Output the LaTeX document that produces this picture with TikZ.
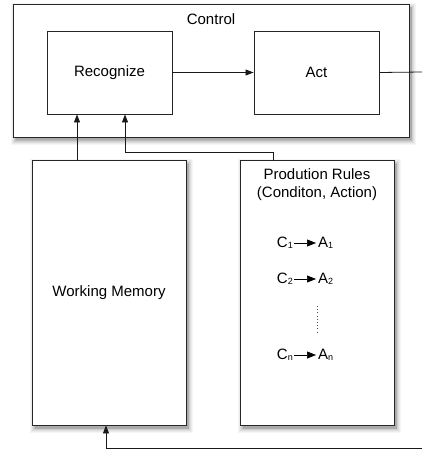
\documentclass[tikz,border=0pt]{standalone}
\usepackage{fontspec}
\setmainfont{Liberation Sans}
\usetikzlibrary{arrows.meta}
\begin{document}
\begin{tikzpicture}[x=1pt,y=-1pt,
  box/.style={draw=black!85,line width=0.9pt,fill=white},
  inner/.style={draw=black!85,line width=0.9pt,fill=white},
  conn/.style={draw=black!90,line width=0.8pt},
  tip/.style={-{Triangle[length=8pt,width=6pt]}},
  lbl/.style={font=\fontsize{15}{18}\selectfont},
  rule/.style={font=\fontsize{15}{18}\selectfont,inner sep=0pt},
  small/.style={-{Triangle[length=9pt,width=7pt]},draw=black,line width=0.7pt}]
\useasboundingbox (0,0) rectangle (422,449);
% soft shadows: nested grey rectangles, lightest outermost
\foreach \xa/\ya/\xb/\yb in {13/4/409/137,32/160/186/425,240/160/394/425}{
  \foreach \s/\g in {5/4,4/8,3/13,2/19,1/26,0/33}{
    \pgfmathsetmacro{\lx}{\xa+2.5-\s*0.9}
    \pgfmathsetmacro{\ly}{\ya+3.5-\s*0.9}
    \pgfmathsetmacro{\rx}{\xb+2.5+\s*0.9}
    \pgfmathsetmacro{\ry}{\yb+3.5+\s*0.9}
    \fill[black!\g] (\lx,\ly) rectangle (\rx,\ry);
  }
}
% outer control box
\path[box] (13,4) rectangle (409,137);
\node[lbl] (ctl) at (211,19) {Control};
% inner boxes
\node[inner,lbl,minimum width=125pt,minimum height=83pt] (rec) at (109.5,72.5) {Recognize};
\node[inner,lbl,minimum width=125pt,minimum height=83pt] (act) at (316.5,72.5) {Act};
% memory and rule boxes
\node[box,lbl,minimum width=154pt,minimum height=265pt] (wm) at (109,292.5) {Working Memory};
\node[box,minimum width=154pt,minimum height=265pt] (pr) at (317,292.5) {};
\node[lbl,align=center] (prt) at (317,185) {Prodution Rules\\(Conditon, Action)};
% rule entries
\newcommand{\sub}[1]{\raisebox{-0.15ex}{\fontsize{9}{10}\selectfont #1}}
\node[rule,anchor=east] (c1) at (293,243) {C\sub{1}};
\node[rule,anchor=west] (a1) at (318,243) {A\sub{1}};
\node[rule,anchor=east] (c2) at (293,279) {C\sub{2}};
\node[rule,anchor=west] (a2) at (318,279) {A\sub{2}};
\node[rule,anchor=east] (cn) at (293,355) {C\sub{n}};
\node[rule,anchor=west] (an) at (318,355) {A\sub{n}};
\draw[small] ([xshift=1pt]c1.east) -- ([xshift=-2pt]a1.west);
\draw[small] ([xshift=1pt]c2.east) -- ([xshift=-2pt]a2.west);
\draw[small] ([xshift=1pt]cn.east) -- ([xshift=-2pt]an.west);
\coordinate (d1) at (317,306);
\coordinate (d2) at (317,334);
\draw[black!70,line width=1pt,dash pattern=on 1pt off 2.2pt] (d1) -- (d2);
% connectors
\draw[conn,tip] (rec.east) -- (act.west);
\coordinate (out) at (422,72);
\draw[conn] (act.east) -- (out);
\draw[conn,tip] (wm.north -| 77,0) -- (rec.south -| 77,0);
\coordinate (k1) at (273,152);
\coordinate (k2) at (125,152);
\draw[conn,tip] (pr.north -| k1) -- (k1) -- (k2) -- (rec.south -| k2);
\coordinate (b1) at (422,448);
\coordinate (b2) at (106,448);
\draw[conn,tip] (b1) -- (b2) -- (wm.south -| b2);
\end{tikzpicture}
\end{document}
